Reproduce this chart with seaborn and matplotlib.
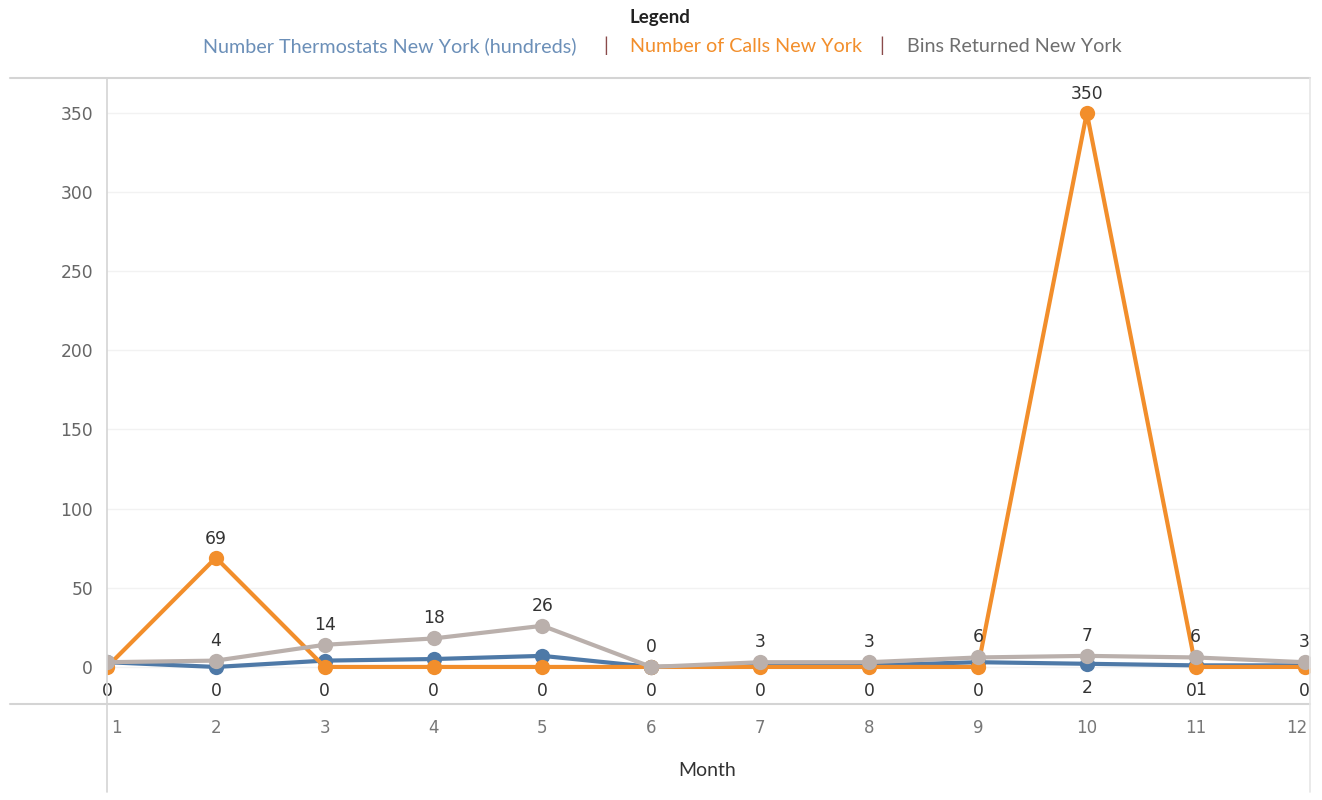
import matplotlib
matplotlib.use("Agg")
import matplotlib.pyplot as plt
import seaborn as sns
import pandas as pd
from matplotlib.lines import Line2D

months = [1, 2, 3, 4, 5, 6, 7, 8, 9, 10, 11, 12]
thermostats = [3, 0, 4, 5, 7, 0, 1, 1, 3, 2, 1, 1]
calls = [0, 69, 0, 0, 0, 0, 0, 0, 0, 350, 0, 0]
bins_returned = [3, 4, 14, 18, 26, 0, 3, 3, 6, 7, 6, 3]

series_names = ["Number Thermostats New York (hundreds)", "Number of Calls New York", "Bins Returned New York"]
colors = ["#4e79a7", "#f28e2b", "#bab0ac"]
legend_text_colors = ["#6b8fb8", "#f28e2b", "#6f6f6f"]

# labels that tableau actually shows (others are hidden by overlap)
thermo_labels = {2: "0", 10: "2", 11: "1"}
bins_hidden = [1]

df = pd.DataFrame({
    "Month": months * 3,
    "Value": thermostats + calls + bins_returned,
    "Series": [series_names[0]] * 12 + [series_names[1]] * 12 + [series_names[2]] * 12,
})

sns.set_style("white")
plt.rcParams["font.family"] = ["DejaVu Sans"]
fig = plt.figure(figsize=(13.22, 8), dpi=100)
ax = fig.add_axes([107 / 1322, 96 / 800, (1310 - 107) / 1322, (704 - 78) / 800])

sns.lineplot(data=df, x="Month", y="Value", hue="Series", palette=colors,
             marker="o", markersize=11, markeredgewidth=0, linewidth=3,
             legend=False, ax=ax)

ax.set_xlim(1, 12.05)
ax.set_ylim(-23.4, 372)
ax.set_yticks(range(0, 351, 50))
ax.set_xticks(months)
ax.set_xticklabels([])
ax.tick_params(axis="y", length=0, labelsize=12.3, labelcolor="#666666", pad=10)
ax.tick_params(axis="x", length=0)
ax.set_xlabel("")
ax.set_ylabel("")
ax.yaxis.grid(True, color="#f2f2f2", linewidth=1)
ax.set_axisbelow(True)
for s in ax.spines.values():
    s.set_visible(False)

lbl = dict(ha="center", fontsize=12.3, color="#333333")
for m, v in zip(months, bins_returned):
    if m in bins_hidden:
        continue
    ax.annotate(str(v), (m, v), xytext=(0, 8), textcoords="offset points", va="bottom", **lbl)
for m, v in zip(months, calls):
    if v > 0:
        ax.annotate(str(v), (m, v), xytext=(0, 7), textcoords="offset points", va="bottom", **lbl)
    else:
        dx = -3.5 if m in (11,) else 0
        ax.annotate(str(v), (m, v), xytext=(dx, -11), textcoords="offset points", va="top",
                    annotation_clip=False, **lbl)
for m, t in thermo_labels.items():
    dx = 3.5 if m == 11 else 0
    ax.annotate(t, (m, thermostats[m - 1]), xytext=(dx, -11), textcoords="offset points", va="top",
                annotation_clip=False, **lbl)

# month tick labels under the axis
for m in months:
    ha = "left" if m == 1 else ("right" if m == 12 else "center")
    ax.annotate(str(m), (m, 0), xycoords=("data", "axes fraction"), xytext=(3 if m == 1 else (2 if m == 12 else 0), -17),
                textcoords="offset points", ha=ha, va="center", fontsize=12, color="#777777",
                annotation_clip=False)

# frame lines like the tableau sheet
line_c = "#d4d4d4"
fig.add_artist(Line2D([10 / 1322, 1310 / 1322], [1 - 78 / 800] * 2, color=line_c, lw=1.5))
fig.add_artist(Line2D([10 / 1322, 1310 / 1322], [1 - 704 / 800] * 2, color=line_c, lw=1.5))
fig.add_artist(Line2D([107 / 1322] * 2, [1 - 78 / 800, 1 - 792 / 800], color=line_c, lw=1.2))
fig.add_artist(Line2D([1310 / 1322] * 2, [1 - 78 / 800, 1 - 792 / 800], color="#e6e6e6", lw=1.2))

fig.text(707 / 1322, 1 - 771 / 800, "Month", ha="center", va="center", fontsize=14,
         color="#333333", family="Lato")

# legend header
fig.text(660 / 1322, 1 - 18 / 800, "Legend", ha="center", va="center", fontsize=13.5,
         fontweight="bold", color="#222222", family="Lato")
legend_x = [203, 630, 907]
for x, name, c in zip(legend_x, series_names, legend_text_colors):
    fig.text(x / 1322, 1 - 46 / 800, name, ha="left", va="center", fontsize=14.2, color=c, family="Lato")
for x in [606, 882]:
    fig.text(x / 1322, 1 - 46 / 800, "|", ha="center", va="center", fontsize=14, color="#8a4a4a", family="Lato")

fig.savefig("out.png", dpi=100)
